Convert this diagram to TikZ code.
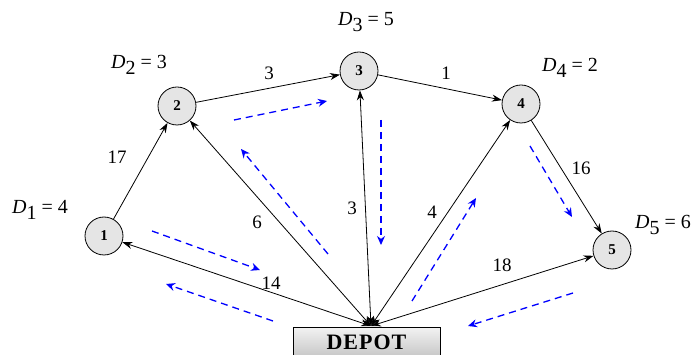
\documentclass[tikz,border=0pt]{standalone}
\usepackage{fontspec}
\setmainfont{Liberation Serif}
\usetikzlibrary{arrows.meta}
\newcommand{\dem}[2]{\textit{D}\raisebox{-6pt}{#1} = #2}
\begin{document}
\begin{tikzpicture}[x=1pt,y=-1pt,
  cust/.style={circle,draw,thick,fill=gray!20,minimum size=38pt,inner sep=0pt,font=\fontsize{15}{15}\selectfont\bfseries},
  edge/.style={-{Stealth[length=10pt,width=7pt]},line width=0.8pt},
  biedge/.style={{Stealth[length=10pt,width=7pt]}-{Stealth[length=10pt,width=7pt]},line width=0.8pt},
  route/.style={-{Stealth[length=9pt,width=8pt]},blue,line width=1.3pt,dash pattern=on 7pt off 5pt},
  wlabel/.style={font=\fontsize{19}{19}\selectfont,inner sep=0pt},
  dlabel/.style={font=\fontsize{20}{20}\selectfont,inner sep=0pt}]
\useasboundingbox (0,0) rectangle (697,355);
\node[cust] (n1) at (104,236) {1};
\node[cust] (n2) at (177,106) {2};
\node[cust] (n3) at (359,71) {3};
\node[cust] (n4) at (521,104) {4};
\node[cust] (n5) at (612,250) {5};
\node[draw,thick,top color=gray!10,bottom color=gray!45,minimum width=147pt,minimum height=30pt,inner sep=0pt,anchor=north,
  font=\fontsize{22}{22}\selectfont\bfseries] (dep) at (366.5,327) {D\kern1pt E\kern1pt P\kern1pt O\kern1pt T};
\coordinate (dc) at (371,326);
% demands
\node[dlabel] (d1) at (40,210) {\dem{1}{4}};
\node[dlabel] (d2) at (139,65) {\dem{2}{3}};
\node[dlabel] (d3) at (366,22) {\dem{3}{5}};
\node[dlabel] (d4) at (570,68) {\dem{4}{2}};
\node[dlabel] (d5) at (663,225) {\dem{5}{6}};
% edges
\draw[edge] (n1) -- (n2);
\draw[edge] (n2) -- (n3);
\draw[edge] (n3) -- (n4);
\draw[edge] (n4) -- (n5);
\draw[biedge] (dc) -- (n1);
\draw[biedge] (dc) -- (n2);
\draw[biedge] (dc) -- (n3);
\draw[biedge] (dc) -- (n4);
\draw[biedge] (dc) -- (n5);
% weights
\node[wlabel] (w12) at (117,157) {17};
\node[wlabel] (w23) at (269,73) {3};
\node[wlabel] (w34) at (446,73) {1};
\node[wlabel] (w45) at (581,168) {16};
\node[wlabel] (w2d) at (257,222) {6};
\node[wlabel] (w3d) at (352,208) {3};
\node[wlabel] (w4d) at (432,212) {4};
\node[wlabel] (w5d) at (502,265) {18};
\node[wlabel] (w1d) at (271,283) {14};
% routes
\coordinate (a1) at (234,120); \coordinate (a2) at (327,101);
\coordinate (b1) at (328,254); \coordinate (b2) at (241,149);
\coordinate (c1) at (381,120); \coordinate (c2) at (381,245);
\coordinate (e1) at (412,301); \coordinate (e2) at (476,198);
\coordinate (f1) at (530,146); \coordinate (f2) at (572,217);
\coordinate (g1) at (573,293); \coordinate (g2) at (468,326);
\coordinate (h1) at (273,321); \coordinate (h2) at (166,284);
\coordinate (k1) at (152,231); \coordinate (k2) at (260,270);
\draw[route] (a1) -- (a2);
\draw[route] (b1) -- (b2);
\draw[route] (c1) -- (c2);
\draw[route] (e1) -- (e2);
\draw[route] (f1) -- (f2);
\draw[route] (g1) -- (g2);
\draw[route] (h1) -- (h2);
\draw[route] (k1) -- (k2);
\end{tikzpicture}
\end{document}
